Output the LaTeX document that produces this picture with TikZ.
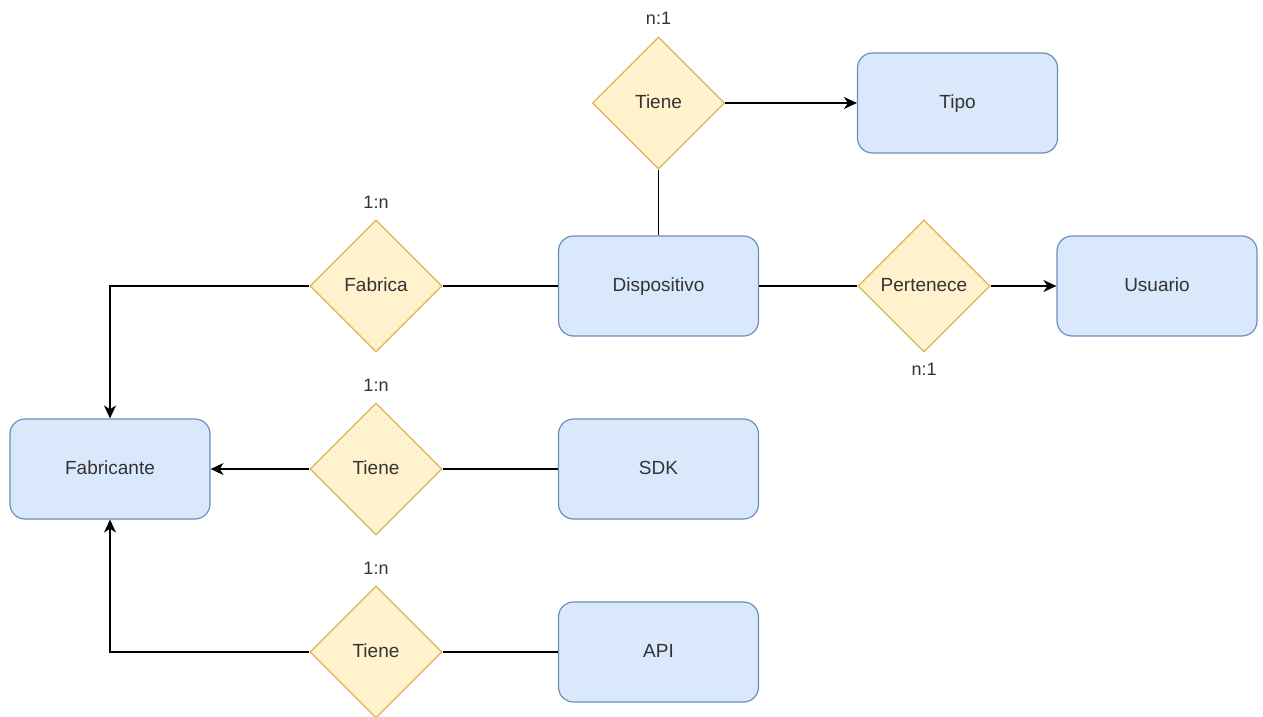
\documentclass[tikz,border=0pt]{standalone}
\usepackage{fontspec}
\setmainfont{Liberation Sans}
\usetikzlibrary{shapes.geometric,arrows.meta}
\definecolor{entfill}{HTML}{DAE8FC}
\definecolor{entline}{HTML}{6C8EBF}
\definecolor{relfill}{HTML}{FFF2CC}
\definecolor{relline}{HTML}{D6B656}
\definecolor{txt}{HTML}{333333}
\tikzset{
  entity/.style={draw=entline, fill=entfill, line width=1.2pt, rounded corners=15pt,
    minimum width=200pt, minimum height=100pt, inner sep=0pt,
    text height=14pt, text depth=4pt,
    font=\fontsize{19}{22}\selectfont, text=txt},
  relation/.style={diamond, draw=relline, fill=relfill, line width=1.2pt,
    minimum width=132pt, minimum height=132pt, inner sep=0pt, aspect=1,
    text height=14pt, text depth=4pt,
    font=\fontsize{19}{22}\selectfont, text=txt},
  card/.style={font=\fontsize{18}{21}\selectfont, text=txt, inner sep=0pt},
  link/.style={draw=black, line width=1.3pt},
  arrowlink/.style={link, -{Stealth[length=13pt,width=12pt,inset=4pt]}}
}
\begin{document}
\begin{tikzpicture}[x=1pt,y=-1pt]
\useasboundingbox (0,0) rectangle (1263,717);

% entities
\node[entity] (tipo)   at (957.5,103)  {Tipo};
\node[entity] (disp)   at (658.5,286)  {Dispositivo};
\node[entity] (usr)    at (1157,286)   {Usuario};
\node[entity] (fab)    at (110,469)    {Fabricante};
\node[entity] (sdk)    at (658.5,469)  {SDK};
\node[entity] (api)    at (658.5,652)  {API};

% relationships
\node[relation] (rtipo) at (658.5,103) {Tiene};
\node[relation] (rfab)  at (376,286)   {Fabrica};
\node[relation] (rpert) at (924,286)   {Pertenece};
\node[relation] (rsdk)  at (376,469)   {Tiene};
\node[relation] (rapi)  at (376,652)   {Tiene};

% cardinalities
\node[card] (c1) at (658.5,18)  {n:1};
\node[card] (c2) at (376,202)   {1:n};
\node[card] (c3) at (924,369)   {n:1};
\node[card] (c4) at (376,385)   {1:n};
\node[card] (c5) at (376,568)   {1:n};

% connectors
\draw[arrowlink] (rtipo.east) -- (tipo.west);
\draw[link] (rtipo.south) -- (disp.north);
\draw[arrowlink] (rfab.west) -| (fab.north);
\draw[link] (rfab.east) -- (disp.west);
\draw[link] (disp.east) -- (rpert.west);
\draw[arrowlink] (rpert.east) -- (usr.west);
\draw[arrowlink] (rsdk.west) -- (fab.east);
\draw[link] (rsdk.east) -- (sdk.west);
\draw[arrowlink] (rapi.west) -| (fab.south);
\draw[link] (rapi.east) -- (api.west);
\end{tikzpicture}
\end{document}
